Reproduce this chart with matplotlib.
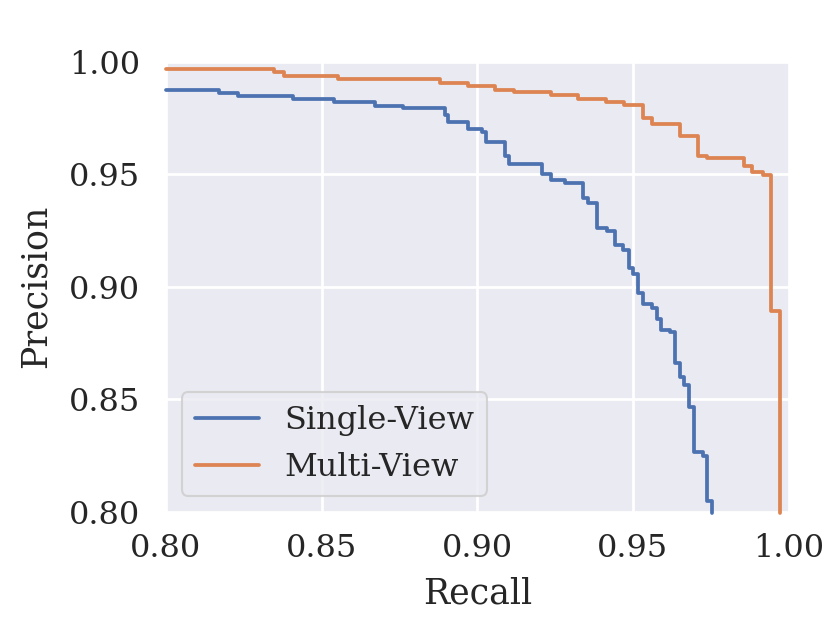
import matplotlib
matplotlib.use("Agg")
import matplotlib.pyplot as plt
import seaborn as sns

# step start recall and precision level for each curve
single_recall = [0.800, 0.8171, 0.8231, 0.8408, 0.8541, 0.8672, 0.8763, 0.8897, 0.8907,
                 0.8969, 0.9014, 0.9027, 0.9089, 0.9102, 0.9207, 0.9237, 0.9282, 0.9341,
                 0.9355, 0.9384, 0.9416, 0.9442, 0.9469, 0.9487, 0.9501, 0.9517, 0.9531,
                 0.9560, 0.9576, 0.9590, 0.9619, 0.9635, 0.9651, 0.9665, 0.9680, 0.9696,
                 0.9726, 0.9739, 0.9755]
single_prec = [0.9876, 0.9863, 0.9847, 0.9832, 0.9820, 0.9805, 0.9792, 0.9763, 0.9732,
               0.9701, 0.9686, 0.9644, 0.9582, 0.9545, 0.9500, 0.9475, 0.9463, 0.9395,
               0.9370, 0.9260, 0.9247, 0.9186, 0.9165, 0.9083, 0.9058, 0.8972, 0.8924,
               0.8905, 0.8856, 0.8808, 0.8800, 0.8662, 0.8597, 0.8562, 0.8466, 0.8265,
               0.8250, 0.8046, 0.7995]

multi_recall = [0.800, 0.8346, 0.8378, 0.8554, 0.8881, 0.8969, 0.9057, 0.9119, 0.9237,
                0.9325, 0.9413, 0.9473, 0.9534, 0.9560, 0.9651, 0.9710, 0.9737, 0.9858,
                0.9884, 0.9917, 0.9945, 0.9974]
multi_prec = [0.9969, 0.9954, 0.9936, 0.9921, 0.9906, 0.9892, 0.9876, 0.9865, 0.9850,
              0.9835, 0.9823, 0.9808, 0.9749, 0.9723, 0.9668, 0.9582, 0.9573, 0.9537,
              0.9510, 0.9495, 0.8893, 0.7995]

sns.set_style("darkgrid")
plt.rcParams['font.family'] = ['DejaVu Serif']
fs = 23

fig = plt.figure(figsize=(8.3, 6.23), dpi=100)
ax = fig.add_axes([0.200, 0.1785, 0.750, 0.7225])

ax.step(single_recall, single_prec, where='post', color='#4C72B0', lw=2.7,
        label='Single-View', clip_on=False, solid_capstyle='round', solid_joinstyle='round')
ax.step(multi_recall, multi_prec, where='post', color='#DD8452', lw=2.7,
        label='Multi-View', clip_on=False, solid_capstyle='round', solid_joinstyle='round')

ax.set_xlim(0.8, 1.0)
ax.set_ylim(0.8, 1.0)
ax.set_xticks([0.80, 0.85, 0.90, 0.95, 1.00])
ax.set_yticks([0.80, 0.85, 0.90, 0.95, 1.00])
ax.tick_params(labelsize=fs, colors='#262626')
ax.tick_params(axis='x', pad=12)
ax.tick_params(axis='y', pad=15)
ax.grid(color='white', lw=2)
for s in ax.spines.values():
    s.set_visible(False)

ax.set_xlabel('Recall', fontsize=25, color='#262626', labelpad=9)
ax.set_ylabel('Precision', fontsize=25, color='#262626', labelpad=12)

leg = ax.legend(loc='lower left', fontsize=fs, frameon=True, handlelength=2.0)
leg.get_frame().set_facecolor('#EAEAF2')
leg.get_frame().set_edgecolor('#CCCCCC')
leg.get_frame().set_linewidth(1.5)
for t in leg.get_texts():
    t.set_color('#262626')

fig.savefig('out.png', dpi=100)
